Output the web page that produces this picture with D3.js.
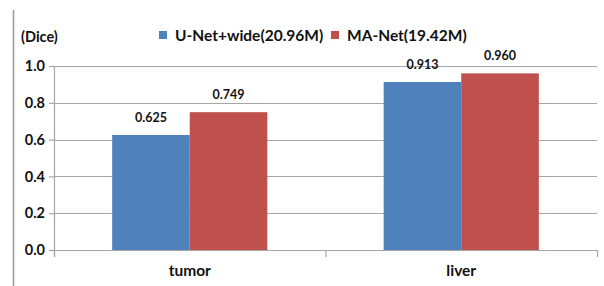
<!DOCTYPE html>
<html>
<head>
<meta charset="utf-8">
<script src="https://cdn.jsdelivr.net/npm/d3@7"></script>
<style>
  body { margin: 0; background: #fff; }
  text { font-family: Lato, "Open Sans", sans-serif; font-weight: bold; fill: #111; }
</style>
</head>
<body>
<div id="chart"></div>
<script>
// Data
const categories = ["tumor", "liver"];
const seriesNames = ["U-Net+wide(20.96M)", "MA-Net(19.42M)"];
const unetWide = [0.625, 0.913];
const maNet = [0.749, 0.960];
const yTicks = [0.0, 0.2, 0.4, 0.6, 0.8, 1.0];
const colors = ["#4F81BD", "#C0504D"];

const width = 604, height = 286;
const margin = { top: 66, right: 7, bottom: 36, left: 54 };

const svg = d3.select("#chart").append("svg")
    .attr("width", width)
    .attr("height", height);

// left border of the frame
svg.append("line")
    .attr("x1", 13.5).attr("x2", 13.5)
    .attr("y1", 10).attr("y2", height)
    .attr("stroke", "#999").attr("stroke-width", 1.5);

const x0 = d3.scaleBand()
    .domain(categories)
    .range([margin.left, width - margin.right]);
const x1 = d3.scaleBand()
    .domain(seriesNames)
    .range([0, x0.bandwidth()])
    .paddingOuter(0.75);
const y = d3.scaleLinear()
    .domain([0, 1])
    .range([height - margin.bottom, margin.top]);

// gridlines
svg.append("g")
    .selectAll("line")
    .data(yTicks.slice(1))
    .enter().append("line")
    .attr("x1", margin.left).attr("x2", width - margin.right)
    .attr("y1", d => Math.round(y(d)) + 0.5).attr("y2", d => Math.round(y(d)) + 0.5)
    .attr("stroke", "#a6a6a6").attr("stroke-width", 1.2);

// y axis
const yAxis = svg.append("g")
    .attr("transform", `translate(${margin.left},0)`)
    .call(d3.axisLeft(y).tickValues(yTicks).tickFormat(d3.format(".1f")).tickSize(5).tickPadding(4));
yAxis.select(".domain").remove();
yAxis.selectAll(".tick line").attr("stroke", "#a6a6a6").attr("stroke-width", 1.2);
yAxis.selectAll("text").style("font-size", "14.5px").style("font-family", "Lato, sans-serif").style("font-weight", "bold").attr("fill", "#111");
svg.append("line")
    .attr("x1", margin.left + 0.5).attr("x2", margin.left + 0.5)
    .attr("y1", y(1)).attr("y2", y(0) + 7)
    .attr("stroke", "#a6a6a6").attr("stroke-width", 1.2);

// bars
const rows = categories.map((c, i) => ({ cat: c, values: [unetWide[i], maNet[i]] }));
const groups = svg.append("g").selectAll("g")
    .data(rows)
    .enter().append("g")
    .attr("transform", d => `translate(${x0(d.cat)},0)`);

groups.selectAll("rect")
    .data(d => d.values.map((v, k) => ({ name: seriesNames[k], value: v, k })))
    .enter().append("rect")
    .attr("x", d => x1(d.name))
    .attr("y", d => y(d.value))
    .attr("width", x1.bandwidth())
    .attr("height", d => y(0) - y(d.value))
    .attr("fill", d => colors[d.k]);

groups.selectAll("text.val")
    .data(d => d.values.map((v, k) => ({ name: seriesNames[k], value: v, k })))
    .enter().append("text")
    .attr("class", "val")
    .attr("x", d => x1(d.name) + x1.bandwidth() / 2)
    .attr("y", d => y(d.value) - 13)
    .attr("text-anchor", "middle")
    .style("font-size", "12.5px")
    .text(d => d3.format(".3f")(d.value));

// x axis baseline
svg.append("line")
    .attr("x1", margin.left).attr("x2", width - margin.right)
    .attr("y1", Math.round(y(0)) + 0.5).attr("y2", Math.round(y(0)) + 0.5)
    .attr("stroke", "#a6a6a6").attr("stroke-width", 1.2);
svg.append("g").selectAll("line")
    .data(d3.range(categories.length + 1))
    .enter().append("line")
    .attr("x1", i => margin.left + i * x0.step() + 0.5)
    .attr("x2", i => margin.left + i * x0.step() + 0.5)
    .attr("y1", y(0)).attr("y2", y(0) + 7)
    .attr("stroke", "#a6a6a6").attr("stroke-width", 1.2);

svg.append("g").selectAll("text")
    .data(categories)
    .enter().append("text")
    .attr("x", d => x0(d) + x0.bandwidth() / 2)
    .attr("y", 276)
    .attr("text-anchor", "middle")
    .style("font-size", "15.5px")
    .text(d => d);

// axis title
svg.append("text")
    .attr("x", 21).attr("y", 42)
    .style("font-size", "14.5px")
    .text("(Dice)");

// legend
const legendX = [159, 331];
const legend = svg.append("g").selectAll("g")
    .data(seriesNames)
    .enter().append("g")
    .attr("transform", (d, i) => `translate(${legendX[i]},31)`);
legend.append("rect")
    .attr("width", 8).attr("height", 8)
    .attr("fill", (d, i) => colors[i]);
legend.append("text")
    .attr("x", 16).attr("y", 9.5)
    .style("font-size", "15.5px")
    .text(d => d);
</script>
</body>
</html>
